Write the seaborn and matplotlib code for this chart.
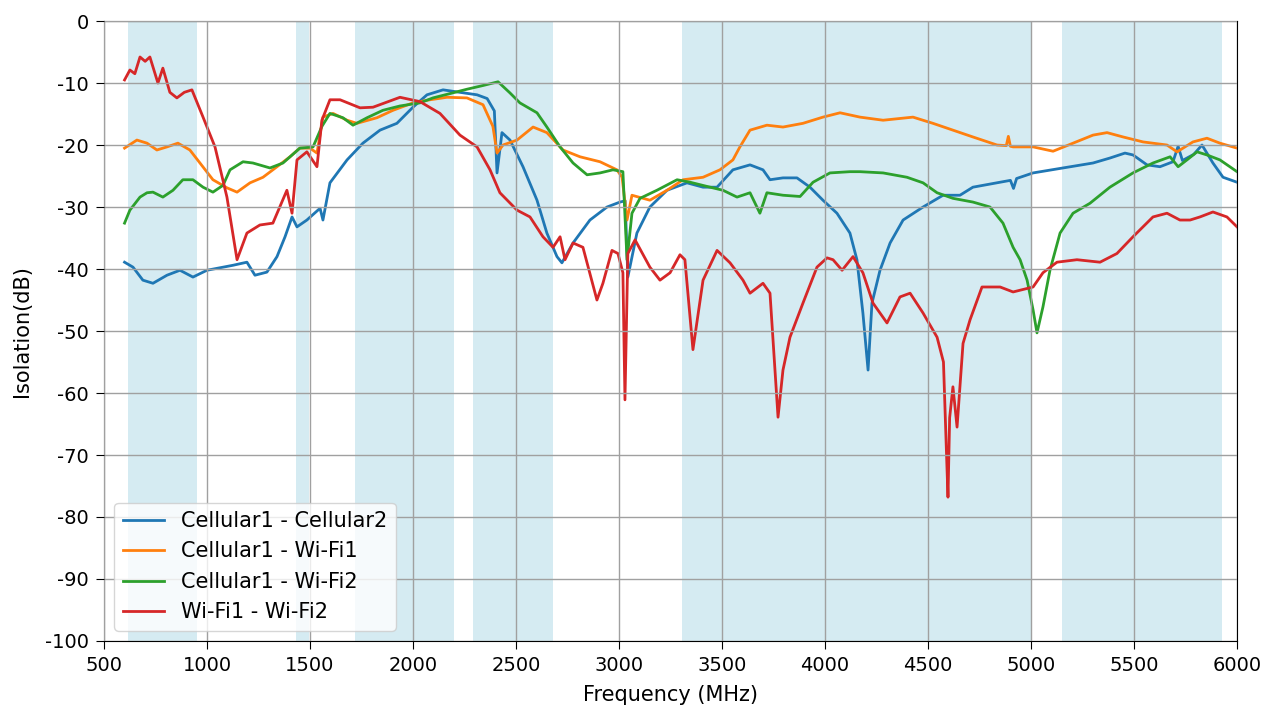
import pandas as pd
import numpy as np
import matplotlib
matplotlib.use('Agg')
import matplotlib.pyplot as plt
import seaborn as sns

plt.rcParams['axes.unicode_minus'] = False

# series names
names = ['Cellular1 - Cellular2', 'Cellular1 - Wi-Fi1', 'Cellular1 - Wi-Fi2', 'Wi-Fi1 - Wi-Fi2']

# Cellular1 - Cellular2
f_c1c2 = [600, 641, 689, 738, 806, 869, 932, 1000, 1063, 1126, 1194, 1233, 1291, 1340, 1379, 1413, 1437,
          1485, 1549, 1563, 1597, 1680, 1757, 1840, 1922, 2000, 2068, 2146, 2228, 2311, 2360, 2395, 2408,
          2432, 2471, 2534, 2602, 2650, 2699, 2723, 2777, 2859, 2942, 3005, 3030, 3043, 3087, 3150, 3233,
          3330, 3408, 3476, 3553, 3636, 3699, 3733, 3796, 3864, 3927, 3990, 4058, 4121, 4155, 4184, 4209,
          4228, 4267, 4316, 4379, 4476, 4573, 4655, 4718, 4850, 4900, 4915, 4930, 5010, 5155, 5301, 5383,
          5456, 5495, 5563, 5626, 5689, 5714, 5735, 5790, 5830, 5883, 5932, 6000]
v_c1c2 = [-38.9, -39.7, -41.8, -42.3, -41, -40.2, -41.3, -40.2, -39.8, -39.4, -38.9, -41, -40.5, -38, -34.8,
          -31.6, -33.2, -32.1, -30.2, -32.1, -26.1, -22.4, -19.7, -17.6, -16.5, -13.9, -11.9, -11.1, -11.5,
          -11.9, -12.5, -14.5, -24.5, -18, -19.2, -23.5, -28.9, -34.2, -38, -39, -35.8, -32.1, -30, -29.2,
          -29, -41.3, -34.2, -30, -27.3, -26.1, -26.8, -26.8, -24, -23.2, -24, -25.6, -25.3, -25.3, -26.8,
          -28.9, -31, -34.2, -38.5, -47.1, -56.3, -45.5, -40.2, -35.8, -32.1, -30, -28.1, -28.1, -26.8, -26,
          -25.7, -27, -25.4, -24.5, -23.7, -22.9, -22.1, -21.3, -21.6, -23.2, -23.5, -22.7, -20.2, -22.5,
          -21.5, -20, -22.9, -25.2, -26]

# Cellular1 - Wi-Fi1
f_c1w1 = [600, 660, 709, 757, 806, 859, 917, 966, 1029, 1097, 1146, 1209, 1272, 1340, 1403, 1451, 1500,
          1534, 1563, 1612, 1680, 1728, 1825, 1903, 2000, 2083, 2165, 2262, 2340, 2388, 2408, 2437, 2505,
          2583, 2650, 2728, 2811, 2908, 2990, 3015, 3039, 3063, 3150, 3233, 3311, 3408, 3490, 3553, 3587,
          3636, 3718, 3796, 3893, 3990, 4073, 4170, 4282, 4427, 4524, 4621, 4718, 4835, 4880, 4890, 4900,
          4913, 5010, 5107, 5204, 5301, 5369, 5447, 5544, 5660, 5709, 5786, 5854, 5917, 6000]
v_c1w1 = [-20.5, -19.2, -19.7, -20.8, -20.3, -19.7, -20.8, -22.9, -25.6, -26.9, -27.6, -26.1, -25.2, -23.5,
          -21.9, -20.5, -20.5, -21.3, -15.5, -14.9, -16, -16.5, -15.6, -14.4, -13.2, -12.7, -12.3, -12.4,
          -13.5, -17, -21.3, -20, -19.2, -17.1, -18, -20.8, -21.9, -22.7, -24, -25.2, -32.1, -28.1, -28.9,
          -27.3, -25.6, -25.2, -24, -22.4, -20.3, -17.6, -16.8, -17.1, -16.5, -15.5, -14.8, -15.5, -16,
          -15.5, -16.5, -17.6, -18.7, -20, -20.1, -18.6, -20.2, -20.3, -20.3, -21, -19.7, -18.4, -18, -18.7,
          -19.5, -20, -21.1, -19.5, -18.9, -19.7, -20.5]

# Cellular1 - Wi-Fi2
f_c1w2 = [600, 626, 675, 709, 738, 786, 835, 883, 932, 981, 1029, 1078, 1112, 1175, 1223, 1306, 1369, 1451,
          1515, 1558, 1597, 1660, 1709, 1777, 1854, 1937, 2034, 2097, 2180, 2262, 2340, 2413, 2471, 2519,
          2602, 2650, 2714, 2777, 2845, 2908, 2971, 3019, 3039, 3063, 3102, 3184, 3282, 3345, 3442, 3505,
          3573, 3636, 3684, 3718, 3796, 3879, 3942, 4024, 4121, 4170, 4282, 4398, 4476, 4544, 4621, 4718,
          4801, 4864, 4913, 4947, 4981, 5010, 5029, 5058, 5092, 5141, 5204, 5286, 5383, 5495, 5592, 5675,
          5714, 5757, 5806, 5854, 5917, 6000]
v_c1w2 = [-32.6, -30.5, -28.4, -27.7, -27.6, -28.4, -27.3, -25.6, -25.6, -26.8, -27.6, -26.5, -24, -22.7,
          -22.9, -23.7, -22.9, -20.5, -20.3, -17, -14.9, -15.6, -16.8, -15.6, -14.4, -13.7, -13.2, -12.4,
          -11.7, -11, -10.4, -9.8, -11.6, -13.2, -14.8, -17.1, -20.3, -22.9, -24.8, -24.5, -24, -24.3,
          -38.5, -31, -28.6, -27.3, -25.6, -26, -26.8, -27.3, -28.4, -27.7, -31, -27.7, -28.1, -28.3, -26,
          -24.5, -24.3, -24.3, -24.5, -25.2, -26.1, -27.7, -28.6, -29.2, -30, -32.6, -36.5, -38.5, -41.8,
          -46.6, -50.3, -46.1, -40.2, -34.2, -31, -29.4, -26.8, -24.5, -22.9, -21.9, -23.5, -22.4, -21.1,
          -21.6, -22.4, -24.3]

# Wi-Fi1 - Wi-Fi2
f_w1w2 = [600, 626, 650, 675, 700, 723, 762, 786, 820, 854, 890, 927, 981, 1039, 1097, 1146, 1194, 1257,
          1320, 1388, 1413, 1437, 1485, 1534, 1558, 1597, 1646, 1743, 1806, 1937, 2034, 2131, 2228, 2311,
          2374, 2422, 2505, 2568, 2631, 2680, 2714, 2738, 2777, 2825, 2893, 2922, 2966, 2995, 3019, 3029,
          3043, 3078, 3150, 3199, 3248, 3296, 3320, 3359, 3408, 3476, 3539, 3602, 3636, 3699, 3733, 3772,
          3796, 3830, 3893, 3961, 4010, 4039, 4083, 4136, 4184, 4233, 4301, 4364, 4413, 4476, 4544, 4575,
          4590, 4597, 4605, 4621, 4641, 4670, 4704, 4762, 4850, 4913, 5010, 5058, 5126, 5223, 5335, 5417,
          5495, 5592, 5660, 5723, 5772, 5820, 5883, 5951, 6000]
v_w1w2 = [-9.5, -7.9, -8.5, -5.8, -6.5, -5.8, -10, -7.6, -11.5, -12.4, -11.5, -11.1, -15.5, -20.3, -28.4,
          -38.5, -34.2, -32.9, -32.6, -27.3, -31, -22.4, -21.1, -23.5, -16, -12.7, -12.7, -14, -13.9, -12.3,
          -13, -14.9, -18.4, -20.3, -24, -27.7, -30.5, -31.6, -34.8, -36.5, -34.8, -38.5, -35.8, -36.5, -45,
          -42.3, -37, -37.5, -40.6, -61.1, -37.5, -35.3, -39.7, -41.8, -40.6, -37.7, -38.5, -53, -41.8, -37,
          -39, -41.8, -43.9, -42.3, -43.9, -63.9, -56.3, -51, -45.5, -39.7, -38.2, -38.5, -40.2, -38, -40.6,
          -45.5, -48.7, -44.5, -43.9, -47.1, -51, -55, -70, -76.8, -64, -59, -65.5, -52, -48.2, -42.9, -42.9,
          -43.7, -42.9, -40.6, -38.9, -38.5, -38.9, -37.5, -34.8, -31.6, -31, -32.1, -32.1, -31.6, -30.8,
          -31.6, -33.2]

# shaded frequency bands (MHz)
bands = [(615, 950), (1430, 1495), (1718, 2200), (2290, 2680), (3308, 5000), (5150, 5925)]

x_ticks = list(range(500, 6001, 500))
y_ticks = list(range(-100, 1, 10))

frames = []
for name, f, v in zip(names, [f_c1c2, f_c1w1, f_c1w2, f_w1w2], [v_c1c2, v_c1w1, v_c1w2, v_w1w2]):
    frames.append(pd.DataFrame({'Frequency': f, 'Isolation': v, 'Pair': name}))
df = pd.concat(frames, ignore_index=True)

fig = plt.figure(figsize=(12.77, 7.13), dpi=100)
ax = fig.add_axes([0.0814, 0.101, 0.8873, 0.8695])

for lo, hi in bands:
    ax.axvspan(lo, hi, color='lightblue', alpha=0.5, lw=0, zorder=0)

sns.lineplot(data=df, x='Frequency', y='Isolation', hue='Pair', hue_order=names,
             palette=sns.color_palette('tab10', 4), linewidth=2, ax=ax, sort=False)

ax.set_xlim(500, 6000)
ax.set_ylim(-100, 0)
ax.set_xticks(x_ticks)
ax.set_yticks(y_ticks)
ax.tick_params(labelsize=14, length=6, pad=5)
ax.grid(True, color='#a0a0a0', linewidth=1)
ax.set_axisbelow(False)
for ln in ax.get_xgridlines() + ax.get_ygridlines():
    ln.set_zorder(1)
ax.set_xlabel('Frequency (MHz)', fontsize=15, labelpad=7)
ax.set_ylabel('Isolation(dB)', fontsize=15, labelpad=9)

sns.move_legend(ax, 'lower left', title=None, fontsize=15)

fig.savefig('out.png', dpi=100)
